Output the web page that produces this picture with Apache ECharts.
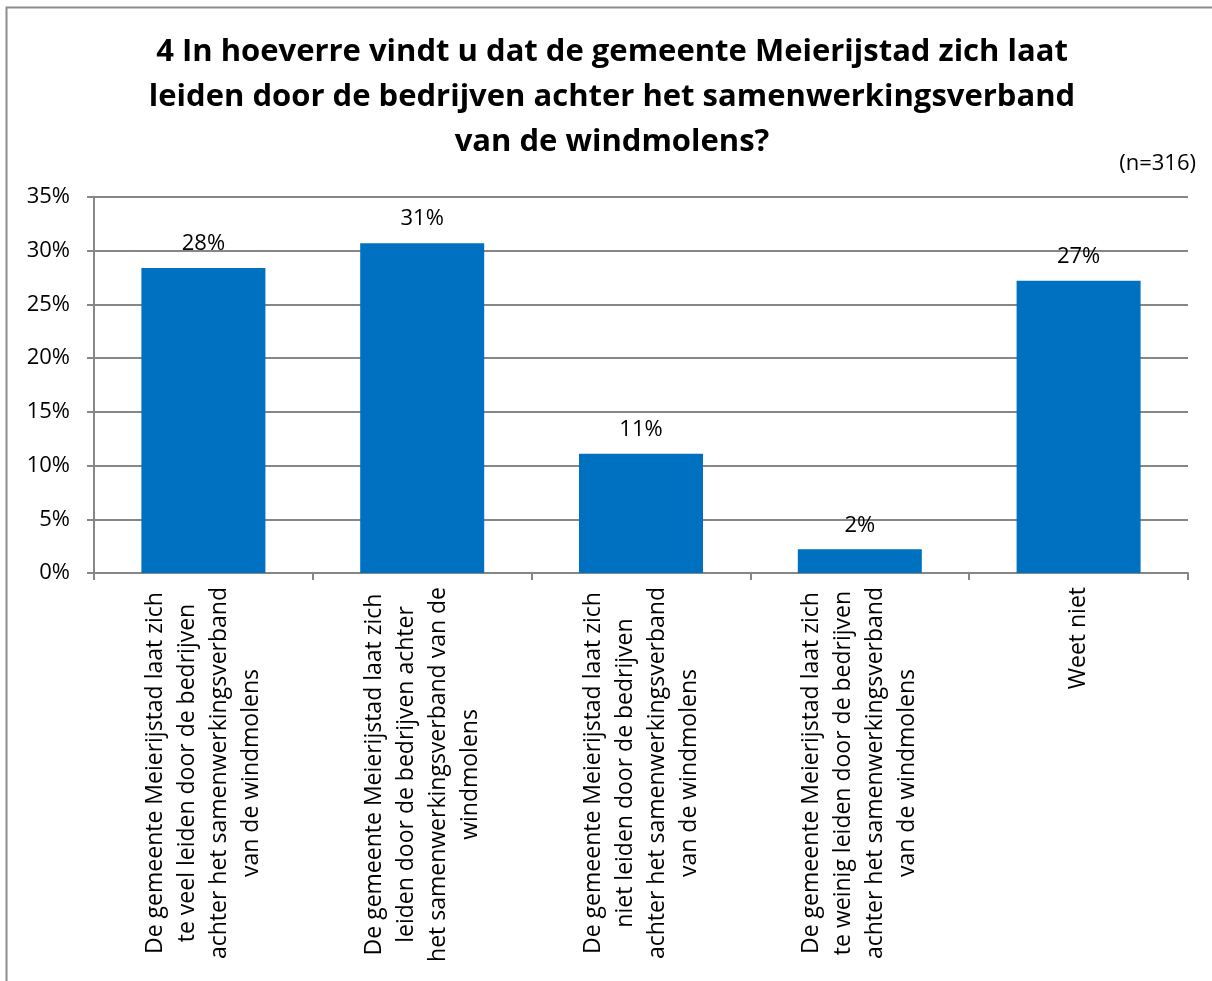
<!DOCTYPE html>
<html>
<head>
<meta charset="utf-8">
<script src="https://cdn.jsdelivr.net/npm/echarts@6/dist/echarts.min.js"></script>
<style>
html,body{margin:0;padding:0;background:#fff;}
#chart{width:1212px;height:981px;}
</style>
</head>
<body>
<div id="chart"></div>
<script>
const titleText = "4 In hoeverre vindt u dat de gemeente Meierijstad zich laat\nleiden door de bedrijven achter het samenwerkingsverband\nvan de windmolens?";
const noteText = "(n=316)";
const categories = [
  "De gemeente Meierijstad laat zich\nte veel leiden door de bedrijven\nachter het samenwerkingsverband\nvan de windmolens",
  "De gemeente Meierijstad laat zich\nleiden door de bedrijven achter\nhet samenwerkingsverband van de\nwindmolens",
  "De gemeente Meierijstad laat zich\nniet leiden door de bedrijven\nachter het samenwerkingsverband\nvan de windmolens",
  "De gemeente Meierijstad laat zich\nte weinig leiden door de bedrijven\nachter het samenwerkingsverband\nvan de windmolens",
  "Weet niet"
];
const values = [28.4, 30.7, 11.1, 2.2, 27.2];
const yTicks = { min: 0, max: 35, interval: 5 };

const FONT = "'Open Sans', sans-serif";
const chart = echarts.init(document.getElementById('chart'), null, {renderer: 'canvas'});
chart.setOption({
  backgroundColor: '#ffffff',
  animation: false,
  title: {
    text: titleText,
    left: 612,
    textAlign: 'center',
    top: 30,
    padding: 0,
    textStyle: { fontFamily: FONT, fontWeight: 'bold', fontSize: 31, lineHeight: 45, color: '#000' }
  },
  graphic: [
    { type: 'rect', shape: { x: 6.5, y: 7.5, width: 1300, height: 1100 }, style: { fill: null, stroke: '#8c8c8c', lineWidth: 2 }, silent: true, z: -1 },
    { type: 'text', right: 16, top: 153, style: { text: noteText, fontFamily: FONT, fontSize: 22, fill: '#000' } }
  ],
  grid: { left: 94, right: 24, top: 197, bottom: 408, containLabel: false },
  xAxis: {
    type: 'category',
    data: categories,
    axisLine: { lineStyle: { color: '#868686', width: 2 } },
    axisTick: { show: true, length: 7, lineStyle: { color: '#868686', width: 2 } },
    axisLabel: {
      interval: 0,
      rotate: 90,
      margin: 14,
      formatter: function (v) { return v.split('\n').map(l => '{c|' + l + '}').join('\n'); },
      rich: { c: { align: 'center', fontFamily: FONT, fontSize: 23, lineHeight: 32, color: '#000' } }
    }
  },
  yAxis: {
    type: 'value',
    min: yTicks.min, max: yTicks.max, interval: yTicks.interval,
    axisLine: { show: true, lineStyle: { color: '#868686', width: 2 } },
    axisTick: { show: true, length: 7, lineStyle: { color: '#868686', width: 2 } },
    axisLabel: { formatter: '{value}%', fontFamily: FONT, fontSize: 22, color: '#000', margin: 24 },
    splitLine: { lineStyle: { color: '#868686', width: 2 } }
  },
  series: [{
    type: 'bar',
    data: values,
    barWidth: 124,
    itemStyle: { color: '#0070C0' },
    label: {
      show: true, position: 'top', distance: 13,
      formatter: p => Math.round(p.value) + '%',
      fontFamily: FONT, fontSize: 22, color: '#000'
    }
  }]
});
</script>
</body>
</html>
